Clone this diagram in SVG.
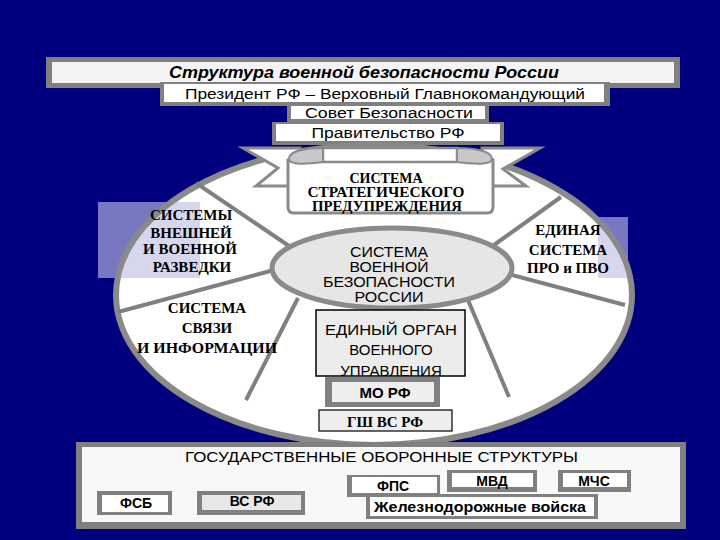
<svg xmlns="http://www.w3.org/2000/svg" width="720" height="540" viewBox="0 0 720 540">
<defs>
<style>
.sans{font-family:"Liberation Sans",Arial,sans-serif;fill:#000}
.serif{font-family:"Liberation Serif","Times New Roman",serif;font-weight:bold;fill:#000}
.frame{fill:#808080}
.inner{fill:#ffffff}
.spoke{stroke:#808080;stroke-width:4;fill:none}
.mid{text-anchor:middle}
</style>
<clipPath id="bigClip"><ellipse cx="374" cy="295" rx="255" ry="147"/></clipPath>
</defs>
<rect x="0" y="0" width="720" height="540" fill="#00007f"/>

<g id="title">
<rect x="46" y="57" width="634" height="31" class="frame"/>
<rect x="52" y="62" width="622" height="21" fill="#f4f4f4"/>
<text x="169" y="78" class="sans" font-size="17" font-weight="bold" font-style="italic" textLength="390" lengthAdjust="spacingAndGlyphs">Структура военной безопасности России</text>
</g>

<g id="sovet">
<rect x="287" y="104" width="202" height="18" class="frame"/>
<rect x="291" y="105" width="194" height="14" class="inner"/>
<text x="389" y="118" class="sans mid" font-size="14" textLength="168" lengthAdjust="spacingAndGlyphs">Совет  Безопасности</text>
</g>

<g id="president">
<rect x="160" y="82" width="450" height="24" class="frame"/>
<rect x="164" y="84" width="440" height="18" class="inner"/>
<text x="385" y="99" class="sans mid" font-size="14" textLength="400" lengthAdjust="spacingAndGlyphs">Президент РФ – Верховный Главнокомандующий</text>
</g>

<g id="government">
<rect x="272" y="122" width="232" height="23" class="frame"/>
<rect x="276" y="124" width="224" height="17" class="inner"/>
<text x="388" y="138" class="sans mid" font-size="14" textLength="153" lengthAdjust="spacingAndGlyphs">Правительство РФ</text>
</g>

<g id="big-ellipse">
<rect x="98" y="202" width="102" height="76" fill="#7878c2"/>
<rect x="598" y="217" width="30" height="61" fill="#7878c2"/>
<ellipse cx="374" cy="295" rx="258" ry="150" fill="#ffffff" stroke="#8a8a8a" stroke-width="6"/>
<g clip-path="url(#bigClip)">
<rect x="98" y="202" width="102" height="76" fill="#b4b4de" opacity="0.55"/>
<rect x="598" y="217" width="30" height="61" fill="#b4b4de" opacity="0.55"/>
</g>
</g>

<g id="connectors">
<line x1="196" y1="183" x2="292" y2="248" class="spoke"/>
<line x1="118" y1="312" x2="274" y2="270" class="spoke"/>
<line x1="298" y1="298" x2="246" y2="400" class="spoke"/>
<line x1="561" y1="197" x2="494" y2="245" class="spoke"/>
<line x1="508" y1="274" x2="625" y2="305" class="spoke"/>
<line x1="468" y1="300" x2="509" y2="397" class="spoke"/>
</g>

<g id="center">
<ellipse cx="392" cy="268" rx="120" ry="40" fill="#e6e6e6" stroke="#8a8a8a" stroke-width="5"/>
<text class="sans mid" font-size="14"><tspan x="389" y="257" textLength="78" lengthAdjust="spacingAndGlyphs">СИСТЕМА</tspan><tspan x="389" y="272" textLength="79" lengthAdjust="spacingAndGlyphs">ВОЕННОЙ</tspan><tspan x="389" y="287" textLength="132" lengthAdjust="spacingAndGlyphs">БЕЗОПАСНОСТИ</tspan><tspan x="389" y="302" textLength="69" lengthAdjust="spacingAndGlyphs">РОССИИ</tspan></text>
</g>

<g id="ribbon">
<path d="M243,148 L300,148 L300,186 L256,186 L278,168 Z" fill="#ffffff" stroke="#8a8a8a" stroke-width="3" stroke-linejoin="miter"/>
<path d="M540,148 L482,148 L482,186 L526,186 L503,169 Z" fill="#ffffff" stroke="#8a8a8a" stroke-width="3" stroke-linejoin="miter"/>
<path d="M288,160 L288,207 Q288,213 294,213 L487,213 Q493,213 493,207 L493,160 Z" fill="#ffffff" stroke="#8a8a8a" stroke-width="3"/>
<rect x="323" y="148" width="134" height="14" fill="#ffffff" stroke="#8a8a8a" stroke-width="2.5"/>
<path d="M323,148 C305,148 289,151 289,159 C289,164 300,165 323,162 Z" fill="#c8c8c8" stroke="#8a8a8a" stroke-width="2"/>
<path d="M457,148 C475,148 492,151 492,159 C492,164 480,165 457,162 Z" fill="#c8c8c8" stroke="#8a8a8a" stroke-width="2"/>
<text class="serif mid" font-size="14"><tspan x="386" y="183">СИСТЕМА</tspan><tspan x="386" y="197" textLength="157" lengthAdjust="spacingAndGlyphs">СТРАТЕГИЧЕСКОГО</tspan><tspan x="387" y="211" textLength="150" lengthAdjust="spacingAndGlyphs">ПРЕДУПРЕЖДЕНИЯ</tspan></text>
</g>

<g id="razvedka">
<text class="serif mid" font-size="15"><tspan x="191" y="220">СИСТЕМЫ</tspan><tspan x="191" y="238">ВНЕШНЕЙ</tspan><tspan x="190" y="254">И ВОЕННОЙ</tspan><tspan x="192" y="272">РАЗВЕДКИ</tspan></text>
</g>

<g id="svyaz">
<text class="serif mid" font-size="15"><tspan x="207" y="313">СИСТЕМА</tspan><tspan x="207" y="333">СВЯЗИ</tspan><tspan x="207" y="353" textLength="140" lengthAdjust="spacingAndGlyphs">И ИНФОРМАЦИИ</tspan></text>
</g>

<g id="pro-pvo">
<text class="serif mid" font-size="15"><tspan x="568" y="235">ЕДИНАЯ</tspan><tspan x="568" y="255">СИСТЕМА</tspan><tspan x="568" y="273">ПРО и ПВО</tspan></text>
</g>

<g id="organ">
<rect x="316" y="310" width="149" height="66" fill="#ececec" stroke="#000" stroke-width="1.5"/>
<text class="sans mid" font-size="15"><tspan x="391" y="335" textLength="132" lengthAdjust="spacingAndGlyphs">ЕДИНЫЙ ОРГАН</tspan><tspan x="391" y="355">ВОЕННОГО</tspan><tspan x="391" y="376">УПРАВЛЕНИЯ</tspan></text>
</g>

<g id="morf">
<rect x="325" y="377" width="115" height="30" class="frame"/>
<rect x="332" y="382" width="102" height="20" fill="#eeeeee"/>
<text x="385" y="398" class="sans mid" font-size="15" font-weight="bold">МО РФ</text>
</g>

<g id="gsh">
<rect x="319" y="410" width="133" height="21" fill="#eeeeee" stroke="#000" stroke-width="1.2"/>
<text x="385" y="427" class="serif mid" font-size="15">ГШ ВС РФ</text>
</g>

<g id="gos-structures">
<rect x="76" y="442" width="610" height="87" class="frame"/>
<rect x="82" y="447" width="598" height="75" fill="#f8f8f8"/>
<text x="185" y="462" class="sans" font-size="15" textLength="393" lengthAdjust="spacingAndGlyphs">ГОСУДАРСТВЕННЫЕ ОБОРОННЫЕ СТРУКТУРЫ</text>
</g>

<g id="fsb">
<rect x="97" y="491" width="75" height="24" class="frame"/>
<rect x="102" y="495" width="66" height="17" class="inner"/>
<text x="136" y="508" class="sans mid" font-size="14" font-weight="bold">ФСБ</text>
</g>

<g id="vs-rf">
<rect x="197" y="491" width="108" height="24" class="frame"/>
<rect x="202" y="495" width="99" height="15" fill="#e8e8e8"/>
<text x="252" y="506" class="sans mid" font-size="14" font-weight="bold">ВС  РФ</text>
</g>

<g id="fps">
<rect x="347" y="475" width="93" height="22" class="frame"/>
<rect x="352" y="477" width="85" height="16" class="inner"/>
<text x="393" y="491" class="sans mid" font-size="14" font-weight="bold">ФПС</text>
</g>

<g id="mvd">
<rect x="447" y="470" width="90" height="22" class="frame"/>
<rect x="452" y="473" width="81" height="14" class="inner"/>
<text x="492" y="486" class="sans mid" font-size="14" font-weight="bold">МВД</text>
</g>

<g id="mchs">
<rect x="558" y="470" width="73" height="22" class="frame"/>
<rect x="563" y="473" width="64" height="14" class="inner"/>
<text x="594" y="486" class="sans mid" font-size="14" font-weight="bold">МЧС</text>
</g>

<g id="railway">
<rect x="366" y="494" width="232" height="25" class="frame"/>
<rect x="370" y="497" width="224" height="19" class="inner"/>
<text x="480" y="512" class="sans mid" font-size="14" font-weight="bold" textLength="212" lengthAdjust="spacingAndGlyphs">Железнодорожные войска</text>
</g>
</svg>
